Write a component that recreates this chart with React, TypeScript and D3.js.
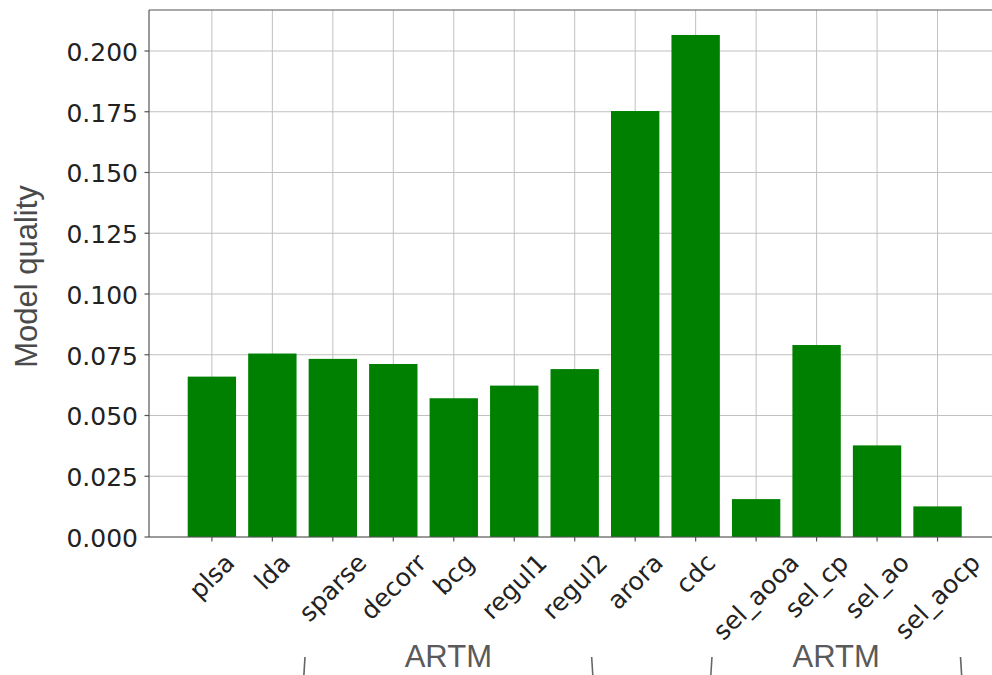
import React, { useEffect, useRef } from "react";
import * as d3 from "d3";

const categories = [
  "plsa", "lda", "sparse", "decorr", "bcg", "regul1", "regul2",
  "arora", "cdc", "sel_aooa", "sel_cp", "sel_ao", "sel_aocp",
];
const values = [
  0.066, 0.0755, 0.0733, 0.0712, 0.0571, 0.0623, 0.0691,
  0.1753, 0.2066, 0.0156, 0.079, 0.0377, 0.0126,
];
const yTicks = [0, 0.025, 0.05, 0.075, 0.1, 0.125, 0.15, 0.175, 0.2];
const yLabel = "Model quality";
const groupLabels = ["ARTM", "ARTM"];
const groupStarts = [1.53, 8.26];
const groupEnds = [6.29, 12.39];

const TICK_FONT = "'DejaVu Sans', Verdana, sans-serif";
const LABEL_FONT = "'Liberation Sans', Arial, Helvetica, sans-serif";

export default function App() {
  const ref = useRef<SVGSVGElement>(null);

  useEffect(() => {
    const svg = d3.select(ref.current);
    svg.selectAll("*").remove();

    const left = 149;
    const top = 10;
    const bottom = 537;
    const step = 60.47;
    const x = d3.scaleLinear().domain([-1.04, 13.04]).range([left, left + 14.08 * step]);
    const y = d3.scaleLinear().domain([0, 0.21687]).range([bottom, top]);
    const barW = x(0.8) - x(0);
    const plotRight = x(13.04);

    const g = svg.append("g");

    // grid
    g.selectAll("line.hgrid")
      .data(yTicks)
      .enter()
      .append("line")
      .attr("x1", left)
      .attr("x2", plotRight)
      .attr("y1", (d) => y(d))
      .attr("y2", (d) => y(d))
      .attr("stroke", "#c0c0c0")
      .attr("stroke-width", 1);
    g.selectAll("line.vgrid")
      .data(categories)
      .enter()
      .append("line")
      .attr("x1", (_d, i) => x(i))
      .attr("x2", (_d, i) => x(i))
      .attr("y1", top)
      .attr("y2", bottom)
      .attr("stroke", "#c0c0c0")
      .attr("stroke-width", 1);

    // bars
    g.selectAll("rect.bar")
      .data(values)
      .enter()
      .append("rect")
      .attr("x", (_d, i) => x(i) - barW / 2)
      .attr("width", barW)
      .attr("y", (d) => y(d))
      .attr("height", (d) => bottom - y(d))
      .attr("fill", "#008000");

    // spines
    g.append("line").attr("x1", left).attr("x2", left).attr("y1", top).attr("y2", bottom)
      .attr("stroke", "#555").attr("stroke-width", 1.2);
    g.append("line").attr("x1", left).attr("x2", plotRight).attr("y1", bottom).attr("y2", bottom)
      .attr("stroke", "#555").attr("stroke-width", 1.2);
    g.append("line").attr("x1", left).attr("x2", plotRight).attr("y1", top).attr("y2", top)
      .attr("stroke", "#555").attr("stroke-width", 1.2);

    const fs = 25;

    // y ticks
    yTicks.forEach((t) => {
      g.append("line").attr("x1", left - 4.5).attr("x2", left).attr("y1", y(t)).attr("y2", y(t))
        .attr("stroke", "#555").attr("stroke-width", 1.2);
      g.append("text")
        .attr("x", left - 11)
        .attr("y", y(t) + 1.5)
        .attr("text-anchor", "end")
        .attr("dominant-baseline", "central")
        .style("font-family", TICK_FONT)
        .style("font-size", `${fs}px`)
        .attr("fill", "#222")
        .text(d3.format(".3f")(t));
    });

    // x ticks & labels
    categories.forEach((c, i) => {
      g.append("line").attr("x1", x(i)).attr("x2", x(i)).attr("y1", bottom).attr("y2", bottom + 4.5)
        .attr("stroke", "#555").attr("stroke-width", 1.2);
      const t = g.append("text")
        .attr("text-anchor", "middle")
        .attr("dominant-baseline", "central")
        .style("font-family", TICK_FONT)
        .style("font-size", `${fs}px`)
        .attr("fill", "#222")
        .text(c);
      const w = (t.node() as SVGTextElement).getComputedTextLength();
      const half = ((w + fs * 0.95) * Math.SQRT1_2) / 2;
      t.attr("transform", `translate(${x(i)},${550 + half}) rotate(-45)`);
    });

    // y label
    g.append("text")
      .attr("transform", `translate(37,276.5) rotate(-90)`)
      .attr("text-anchor", "middle")
      .style("font-family", LABEL_FONT)
      .style("font-size", "31px")
      .attr("fill", "#4a4a4a")
      .text(yLabel);

    // group annotations
    groupLabels.forEach((lab, k) => {
      const x0 = x(groupStarts[k]);
      const x1 = x(groupEnds[k]);
      g.append("text")
        .attr("x", (x0 + x1) / 2)
        .attr("y", 667)
        .attr("text-anchor", "middle")
        .style("font-family", LABEL_FONT)
        .style("font-size", "31px")
        .attr("fill", "#5a5a5a")
        .text(lab);
      g.append("path")
        .attr("d", `M${x0 + 0.6},657 Q${x0},666 ${x0 - 0.6},676`)
        .attr("fill", "none")
        .attr("stroke", "#666")
        .attr("stroke-width", 1.6);
      g.append("path")
        .attr("d", `M${x1 - 0.6},657 Q${x1},666 ${x1 + 0.6},676`)
        .attr("fill", "none")
        .attr("stroke", "#666")
        .attr("stroke-width", 1.6);
    });
  }, []);

  return (
    <svg
      ref={ref}
      width={992}
      height={675}
      style={{ position: "absolute", left: 0, top: 0, overflow: "hidden", background: "#fff" }}
    />
  );
}
